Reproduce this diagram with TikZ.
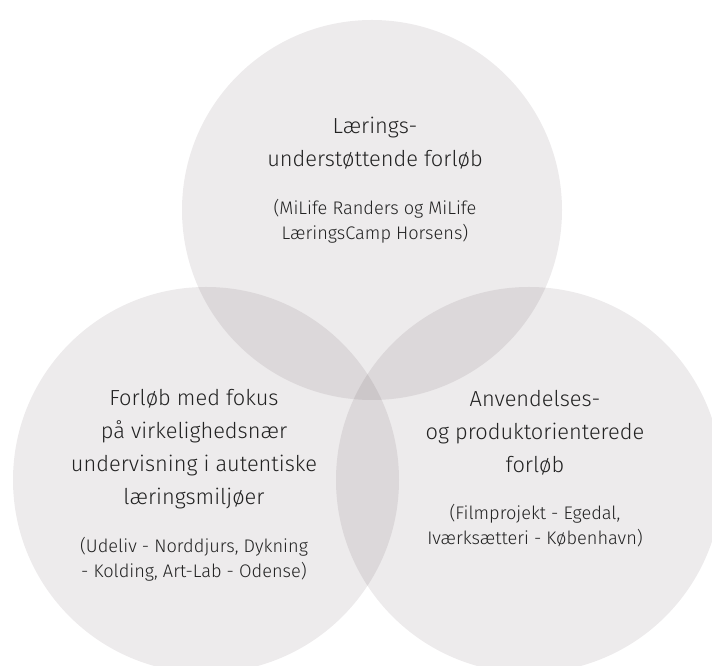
\documentclass[tikz,border=0pt]{standalone}
\usepackage{fontspec}
\setmainfont{Fira Sans Light}
\definecolor{circfill}{RGB}{237,235,236}
\definecolor{txt}{RGB}{34,34,34}
\tikzset{
  circ/.style={fill=circfill, draw=none},
  head/.style={align=center, anchor=base, text=txt, inner sep=0pt, font=\fontsize{21.8}{33}\selectfont},
  sub/.style={align=center, anchor=base, text=txt, inner sep=0pt, font=\fontsize{18.2}{25}\selectfont},
}
\begin{document}
\begin{tikzpicture}[x=1pt,y=1pt]
\useasboundingbox (0,0) rectangle (712,666);
\clip (0,0) rectangle (712,666);
\begin{scope}[blend group=multiply]
  \fill[circ] (372,456) circle[radius=190];
  \fill[circ] (206,186) circle[radius=193];
  \fill[circ] (529,186) circle[radius=193];
\end{scope}
\node[head] (toph) at (375,499) {Lærings-\\understøttende forløb};
\node[sub] (tops) at (375,426) {(MiLife Randers og MiLife\\LæringsCamp Horsens)};
\node[head] (lefth) at (194,161) {Forløb med fokus\\på virkelighedsnær\\undervisning i autentiske\\læringsmiljøer};
\node[sub] (lefts) at (194,88) {(Udeliv - Norddjurs, Dykning\\- Kolding, Art-Lab - Odense)};
\node[head] (righth) at (535,193) {Anvendelses-\\og produktorienterede\\forløb};
\node[sub] (rights) at (535,121) {(Filmprojekt - Egedal,\\Iværksætteri - København)};
\end{tikzpicture}
\end{document}
